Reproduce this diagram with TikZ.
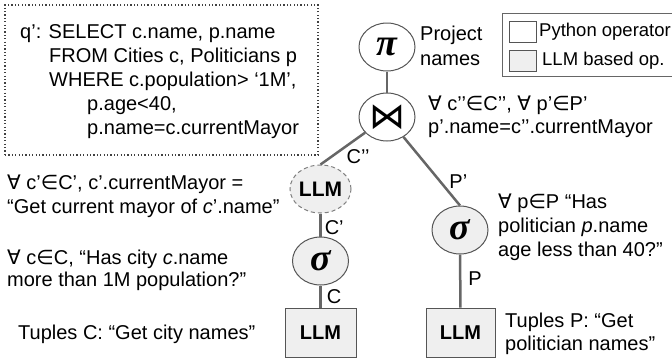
\documentclass[tikz,border=0pt]{standalone}
\usepackage{fontspec}
\setmainfont{Liberation Sans}
\newfontfamily\dejavu{DejaVu Sans}
\newfontfamily\symserif{Liberation Serif}
\usetikzlibrary{shapes.geometric}
\newcommand{\myall}{{\dejavu ∀}}
\newcommand{\myin}{{\dejavu ∈}}
\newcommand{\greekpi}{{\symserif\bfseries\itshape\fontsize{38}{38}\selectfont π}}
\newcommand{\greeksigma}{{\symserif\bfseries\itshape\fontsize{38}{38}\selectfont σ}}
\definecolor{llmgray}{HTML}{EFEFEF}
\definecolor{bordergray}{HTML}{555555}
\definecolor{edgegray}{HTML}{666666}
\begin{document}
\begin{tikzpicture}[x=1pt,y=-1pt,
  op/.style={ellipse, draw=bordergray, line width=1pt, minimum width=56pt, minimum height=48pt, inner sep=0pt},
  pyop/.style={op, fill=white},
  llmop/.style={op, fill=llmgray},
  llmbox/.style={rectangle, draw=bordergray, line width=1pt, fill=llmgray, minimum height=49pt, inner sep=0pt, font=\bfseries\fontsize{20}{24}\selectfont},
  edge/.style={draw=edgegray, line width=2.5pt},
  lbl/.style={inner sep=0pt, font=\fontsize{20}{24}\selectfont},
  txt/.style={align=left, anchor=west, inner sep=0pt},
  legsq/.style={rectangle, draw=bordergray, line width=1pt, minimum width=27pt, minimum height=21pt, inner sep=0pt}
]
\useasboundingbox (0,0) rectangle (672,360);

% SQL box
\node[rectangle, draw=black!75, line width=1.2pt, dash pattern=on 1.2pt off 2.2pt, minimum width=313pt, minimum height=150pt, inner sep=0pt] (sqlbox) at (161.5,80) {};
\node[txt, font=\fontsize{20}{24}\selectfont] (sql) at (20,82) {q’: SELECT c.name, p.name\\
\hspace*{29pt}FROM Cities c, Politicians p\\
\hspace*{29pt}WHERE c.population> ‘1M’,\\
\hspace*{67pt}p.age<40,\\
\hspace*{67pt}p.name=c.currentMayor};

% legend
\node[rectangle, draw=black!60, line width=1pt, minimum width=173pt, minimum height=63pt, inner sep=0pt] (legend) at (588.5,44.5) {};
\node[legsq, fill=white] (lsq1) at (522.5,31.5) {};
\node[legsq, fill=llmgray] (lsq2) at (522.5,60.5) {};
\node[txt, font=\fontsize{18.5}{22}\selectfont] (leg1) at (539,32) {Python operator};
\node[txt, font=\fontsize{18.5}{22}\selectfont] (leg2) at (542,61) {LLM based op.};

% operators
\node[pyop] (pi) at (387,47) {\greekpi};
\node[pyop] (join) at (387,117) {\dejavu\fontsize{36}{36}\selectfont ⋈};
\node[llmop, draw=black!50, dash pattern=on 4pt off 3pt] (llmc) at (320.5,189) {\bfseries\fontsize{21}{24}\selectfont LLM};
\node[llmop] (sigL) at (320.5,261) {\greeksigma};
\node[llmop] (sigR) at (460,230) {\greeksigma};
\node[llmbox, minimum width=71pt] (boxL) at (320.5,332.5) {LLM};
\node[llmbox, minimum width=69pt] (boxR) at (460.5,332.5) {LLM};

% connectors
\draw[edge] (pi) -- (join);
\draw[edge] (join) -- (llmc.north) node[lbl, pos=0.6, anchor=west, xshift=7pt, yshift=-5pt] (lcpp) {C’’};
\draw[edge] (join) -- (sigR.north) node[lbl, pos=0.65, anchor=west, xshift=8pt] (lpp) {P’};
\draw[edge] (llmc) -- (sigL) node[lbl, pos=0.5, anchor=west, xshift=3pt, yshift=-3pt] (lcp) {C’};
\draw[edge] (sigL) -- (boxL) node[lbl, pos=0.5, anchor=west, xshift=5pt] (lc) {C};
\draw[edge] (sigR) -- (boxR) node[lbl, pos=0.45, anchor=west, xshift=7pt] (lp) {P};

% annotations
\node[txt, font=\fontsize{20}{25}\selectfont] (proj) at (420,46) {Project\\names};
\node[txt, font=\fontsize{20}{23}\selectfont] (jointxt) at (428,117) {\myall{} c’’\myin{}C’’, \myall{} p’\myin{}P’\\p’.name=c’’.currentMayor};
\node[txt, font=\fontsize{20}{24}\selectfont] (ltxt1) at (7,196) {\myall{} c’\myin{}C’, c’.currentMayor =\\“Get current mayor of \textit{c}’.name”};
\node[txt, font=\fontsize{20}{22}\selectfont] (ltxt2) at (7,270) {\myall{} c\myin{}C, “Has city \textit{c}.name\\more than 1M population?”};
\node[txt, font=\fontsize{20}{24}\selectfont] (tupC) at (18,334) {Tuples C: “Get city names”};
\node[txt, font=\fontsize{20}{24}\selectfont] (rtxt) at (498,227) {\myall{} p\myin{}P “Has\\politician \textit{p}.name\\age less than 40?”};
\node[txt, font=\fontsize{20}{23}\selectfont] (tupP) at (505,334) {Tuples P: “Get\\politician names”};
\end{tikzpicture}
\end{document}
